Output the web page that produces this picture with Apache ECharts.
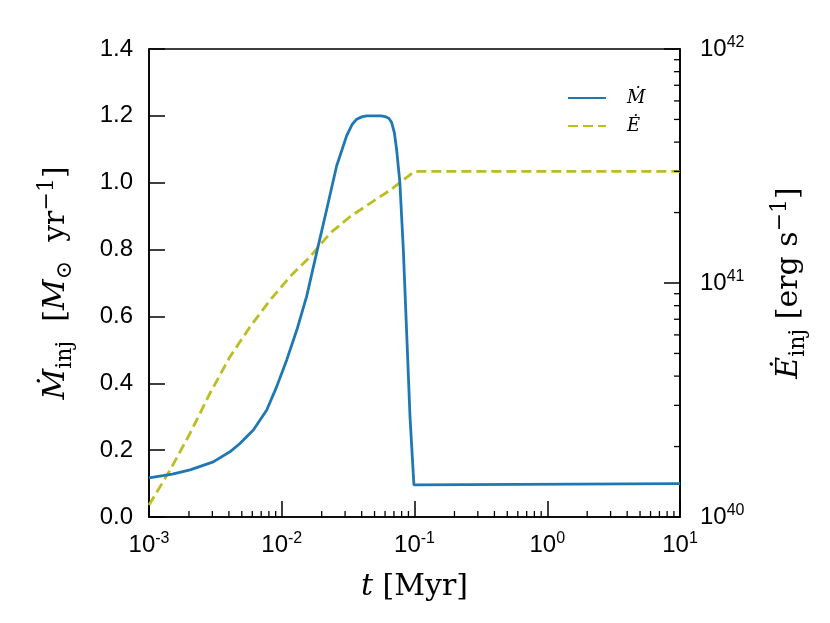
<!DOCTYPE html>
<html>
<head>
<meta charset="utf-8">
<script src="https://cdn.jsdelivr.net/npm/echarts@6/dist/echarts.min.js"></script>
<style>
    html, body { margin: 0; padding: 0; background: #fff; }
    #chart { width: 830px; height: 623px; }
</style>
</head>
<body>
<div id="chart"></div>
<script>
// Injected mass rate [Msun/yr] against time [Myr]
const mdotTime = [0.001, 0.0015, 0.00204, 0.00305, 0.00407, 0.00484, 0.00611, 0.00771, 0.00916,
    0.0109, 0.0130, 0.0154, 0.0183, 0.0218, 0.0259, 0.0308, 0.0340, 0.0367, 0.0400, 0.0437,
    0.0500, 0.0560, 0.0600, 0.0640, 0.0673, 0.0705, 0.0733, 0.0776, 0.0824, 0.0873, 0.0925,
    0.0990, 0.1000, 10];
const mdotValue = [0.117, 0.128, 0.141, 0.165, 0.195, 0.22, 0.26, 0.32, 0.39,
    0.47, 0.56, 0.66, 0.79, 0.92, 1.05, 1.14, 1.175, 1.19, 1.197, 1.20,
    1.20, 1.20, 1.198, 1.193, 1.18, 1.15, 1.10, 1.00, 0.80, 0.55, 0.30,
    0.096, 0.10, 0.10];

// Injected energy rate [erg/s] (right axis)
const edotTime = [0.001, 0.00144, 0.00204, 0.00288, 0.00407, 0.00577, 0.00817, 0.01153,
    0.01633, 0.02307, 0.03266, 0.04624, 0.0653, 0.1, 10];
const edotValue = [1.125e40, 1.585e40, 2.28e40, 3.38e40, 4.84e40, 6.5e40, 8.45e40, 1.064e41,
    1.294e41, 1.63e41, 1.92e41, 2.19e41, 2.49e41, 3.0e41, 3.0e41];

// Axis ranges and minor tick layout
const timeDecades = [-3, -2, -1, 0];
const energyDecades = [40, 41];
const minorSteps = [2, 3, 4, 5, 6, 7, 8, 9];

const black = "#000";
const sansFont = "Liberation Sans";
const serifFont = "DejaVu Serif";
const tickFont = 24;
const titleFont = 30;
const majorLen = 16;
const minorLen = 6;

function minorList(decades) {
    const out = [];
    decades.forEach(d => {
        minorSteps.forEach(k => out.push(k * Math.pow(10, d)));
    });
    return out;
}

const minorTime = minorList(timeDecades);
const minorEnergy = minorList(energyDecades);

const powerRich = {
    b: { fontFamily: sansFont, fontSize: tickFont, lineHeight: 28, color: black },
    s: { fontFamily: sansFont, fontSize: 16, lineHeight: 16, verticalAlign: "top", color: black }
};

function powerLabel(value) {
    const exp = Math.round(Math.log10(value));
    return "{b|10}{s|" + exp + "}";
}

const titleRich = {
    it: { fontFamily: serifFont, fontStyle: "italic", fontSize: titleFont, lineHeight: 40, color: black },
    rm: { fontFamily: serifFont, fontSize: titleFont, lineHeight: 40, color: black },
    sub: { fontFamily: serifFont, fontSize: 22, lineHeight: 22, verticalAlign: "bottom", color: black },
    sup: { fontFamily: serifFont, fontSize: 22, lineHeight: 22, verticalAlign: "top", color: black }
};

const titleStyle = {
    fontFamily: serifFont,
    fontSize: titleFont,
    lineHeight: 40,
    color: black,
    rich: titleRich
};

const tickStyle = { show: true, inside: true, length: majorLen, lineStyle: { color: black, width: 1.5 } };
const lineAxis = { show: true, lineStyle: { color: black, width: 1.6 } };

const option = {
    animation: false,
    backgroundColor: "#fff",
    grid: {
        left: 149,
        right: 150,
        top: 49,
        bottom: 106,
        show: true,
        borderColor: black,
        borderWidth: 1.6,
        backgroundColor: "transparent"
    },
    legend: {
        data: ["Ṁ", "Ė"],
        orient: "vertical",
        left: 562,
        top: 84,
        itemWidth: 38,
        itemHeight: 20,
        itemGap: 10,
        itemStyle: { opacity: 0 },
        textStyle: {
            fontFamily: serifFont,
            fontStyle: "italic",
            fontSize: 18,
            color: black,
            padding: [0, 0, 0, 16]
        }
    },
    xAxis: {
        type: "log",
        logBase: 10,
        min: 0.001,
        max: 10,
        axisLine: lineAxis,
        axisTick: tickStyle,
        splitLine: { show: false },
        axisLabel: {
            margin: 14,
            formatter: powerLabel,
            rich: powerRich
        },
        name: "{it|t}{rm| [Myr]}",
        nameLocation: "middle",
        nameGap: 50,
        nameTextStyle: titleStyle
    },
    yAxis: [
        {
            type: "value",
            min: 0,
            max: 1.4,
            interval: 0.2,
            axisLine: lineAxis,
            axisTick: tickStyle,
            splitLine: { show: false },
            axisLabel: {
                margin: 16,
                fontFamily: sansFont,
                fontSize: tickFont,
                color: black,
                formatter: v => v.toFixed(1)
            },
            name: "{it|Ṁ}{sub|inj}{rm|  [}{it|M}{sub|⊙}{rm|  yr}{sup|−1}{rm|]}",
            nameLocation: "middle",
            nameRotate: 90,
            nameGap: 73,
            nameTextStyle: titleStyle
        },
        {
            type: "log",
            logBase: 10,
            min: 1e40,
            max: 1e42,
            position: "right",
            axisLine: lineAxis,
            axisTick: tickStyle,
            splitLine: { show: false },
            axisLabel: {
                margin: 20,
                formatter: powerLabel,
                rich: powerRich
            },
            name: "{it|Ė}{sub|inj}{rm| [erg s}{sup|−1}{rm|]}",
            nameLocation: "middle",
            nameRotate: 90,
            nameGap: 89,
            nameTextStyle: titleStyle
        }
    ],
    series: [
        {
            name: "Ṁ",
            type: "line",
            xAxisIndex: 0,
            yAxisIndex: 0,
            data: mdotTime.map((t, i) => [t, mdotValue[i]]),
            symbol: "none",
            lineStyle: { color: "#1f77b4", width: 2.8 },
            itemStyle: { color: "#1f77b4" },
            z: 3
        },
        {
            name: "Ė",
            type: "line",
            xAxisIndex: 0,
            yAxisIndex: 1,
            data: edotTime.map((t, i) => [t, edotValue[i]]),
            symbol: "none",
            lineStyle: { color: "#bcbd22", width: 2.8, type: [10, 5] },
            itemStyle: { color: "#bcbd22" },
            z: 2
        },
        {
            // minor ticks on the bottom log axis
            name: "timeMinor",
            type: "custom",
            xAxisIndex: 0,
            yAxisIndex: 0,
            silent: true,
            clip: false,
            data: minorTime.map(t => [t, 0]),
            renderItem: (params, api) => {
                const p = api.coord([api.value(0), 0]);
                return {
                    type: "line",
                    shape: { x1: p[0], y1: p[1], x2: p[0], y2: p[1] - minorLen },
                    style: { stroke: black, lineWidth: 1.3 }
                };
            },
            z: 4
        },
        {
            // minor ticks on the right log axis
            name: "energyMinor",
            type: "custom",
            xAxisIndex: 0,
            yAxisIndex: 1,
            silent: true,
            clip: false,
            data: minorEnergy.map(e => [10, e]),
            renderItem: (params, api) => {
                const p = api.coord([10, api.value(1)]);
                return {
                    type: "line",
                    shape: { x1: p[0], y1: p[1], x2: p[0] - minorLen, y2: p[1] },
                    style: { stroke: black, lineWidth: 1.3 }
                };
            },
            z: 4
        }
    ]
};

const chart = echarts.init(document.getElementById("chart"));
chart.setOption(option);
</script>
</body>
</html>
